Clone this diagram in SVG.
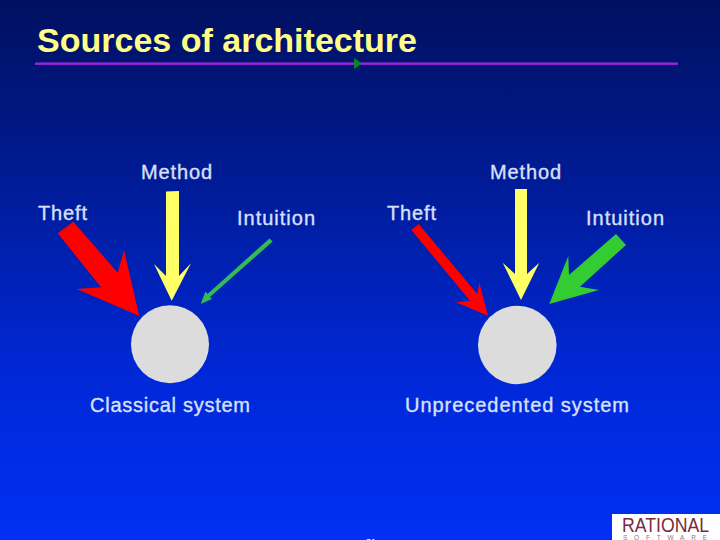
<svg xmlns="http://www.w3.org/2000/svg" width="720" height="540" viewBox="0 0 720 540">
<style>
text{font-family:"Liberation Sans",Arial,sans-serif}
.l{font-size:20px;fill:#d8e0f8;stroke:#d8e0f8;stroke-width:0.35}
.c{fill:#dcdcdc}
.y{fill:#ffff66}
.r{fill:#ff0000}
.g{fill:#33cc33}
</style>
<defs>
<linearGradient id="bg" x1="0" y1="0" x2="0" y2="1">
<stop offset="0" stop-color="#00105f"/>
<stop offset="0.3" stop-color="#001a90"/>
<stop offset="0.7" stop-color="#0028d8"/>
<stop offset="1" stop-color="#0030f4"/>
</linearGradient>
</defs>
<rect width="720" height="540" fill="url(#bg)"/>
<text x="37" y="51.5" font-size="33.5" font-weight="bold" fill="#ffff88" textLength="380" lengthAdjust="spacingAndGlyphs">Sources of architecture</text>
<rect x="35" y="62.5" width="643" height="2.4" fill="#a020dc"/>
<polygon points="354,58 362,63.5 354,69" fill="#008a20"/>
<g id="connectors">
<polygon class="r" points="57.7,233.3 73.3,221.7 117.7,272.7 124,250 139.3,316 76.7,289 101,287.3"/>
<polygon class="y" points="166,191.5 179,191 179,276 191,263.3 171.7,300.7 154,264 166,276"/>
<polygon fill="#33bb55" points="269.5,238.4 272.7,241.6 210,297 212,299 200.7,304 205.5,291.5 207.5,294"/>
<polygon class="r" points="411.3,230 418.7,224 477.3,294 479.3,282.7 488,315.7 456,302.3 470,300.7"/>
<polygon class="y" points="515,189 527,189 527,274 539.3,262.7 521,300 502.7,262.7 515,274"/>
<polygon class="g" points="616,234 626,245 580,286.7 599,290 549.3,304 568.3,256 569,275"/>
</g>
<g id="classical"><circle class="c" cx="170" cy="344.3" r="39"/><text class="l" x="90" y="411.5" textLength="160">Classical system</text></g>
<g id="unprecedented"><circle class="c" cx="517.3" cy="345" r="39.3"/><text class="l" x="405" y="411.5" textLength="224">Unprecedented  system</text></g>
<g id="method1"><text class="l" x="141" y="178.5" textLength="71">Method</text></g>
<g id="theft1"><text class="l" x="38" y="220" textLength="49">Theft</text></g>
<g id="intuition1"><text class="l" x="237" y="225" textLength="78">Intuition</text></g>
<g id="method2"><text class="l" x="490" y="178.5" textLength="71">Method</text></g>
<g id="theft2"><text class="l" x="387" y="220" textLength="49">Theft</text></g>
<g id="intuition2"><text class="l" x="586" y="225" textLength="78">Intuition</text></g>
<g id="logo">
<rect x="612" y="514" width="108" height="26" fill="#ffffff"/>
<text x="622" y="532" font-size="20.5" fill="#7a2a3c" textLength="87" lengthAdjust="spacingAndGlyphs">RATIONAL</text>
<text x="623" y="539.5" font-size="6.5" fill="#808080" textLength="84">SOFTWARE</text>
</g>
<text x="366" y="545" font-size="9" fill="#ffffff">31</text>
</svg>
